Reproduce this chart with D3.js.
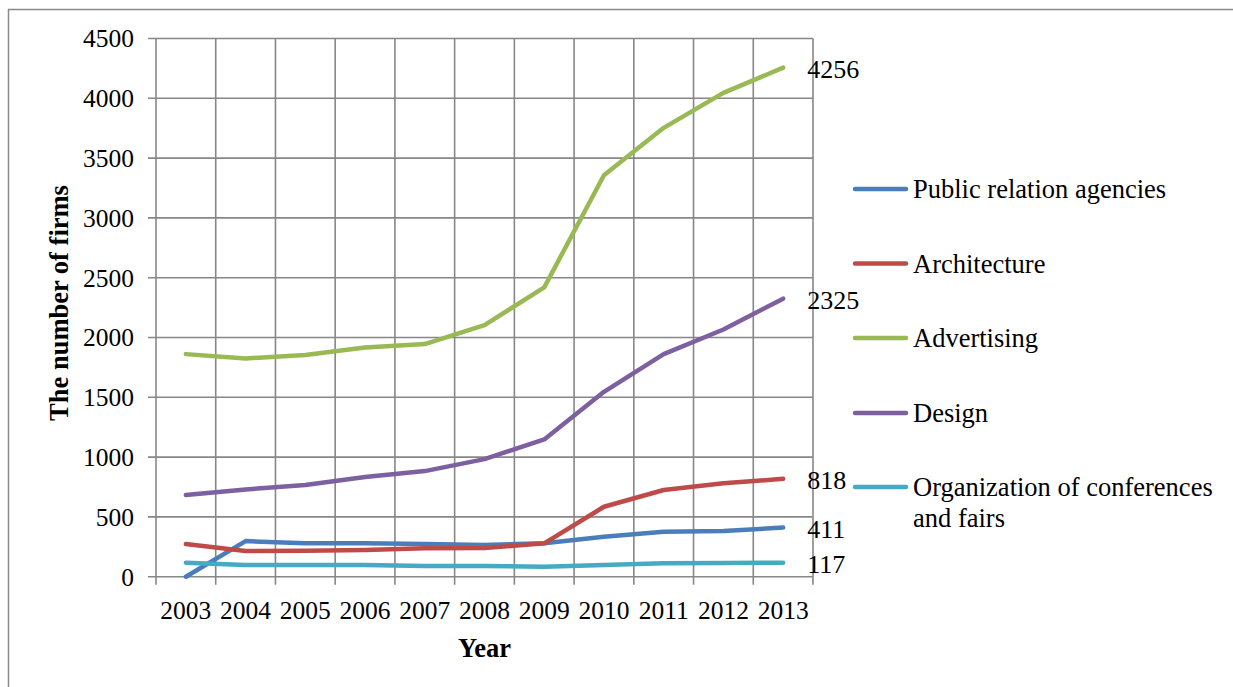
<!DOCTYPE html>
<html>
<head>
<meta charset="utf-8">
<script src="https://cdn.jsdelivr.net/npm/d3@7/dist/d3.min.js"></script>
<style>
  html, body { margin: 0; padding: 0; background: #fff; }
  svg { display: block; }
</style>
</head>
<body>
<svg id="chart" width="1233" height="687"></svg>
<script>
const years = ["2003","2004","2005","2006","2007","2008","2009","2010","2011","2012","2013"];
const seriesNames = ["Public relation agencies","Architecture","Advertising","Design","Organization of conferences and fairs"];
const publicRelation = [0, 298, 279, 279, 273, 265, 279, 334, 376, 382, 411];
const architecture   = [273, 215, 217, 223, 237, 240, 279, 585, 725, 781, 818];
const advertising    = [1861, 1825, 1853, 1917, 1945, 2104, 2419, 3357, 3753, 4045, 4256];
const design         = [683, 730, 766, 834, 883, 983, 1148, 1546, 1861, 2067, 2325];
const conferences    = [117, 98, 98, 98, 89, 89, 84, 98, 112, 115, 117];
const yTicks = [0, 500, 1000, 1500, 2000, 2500, 3000, 3500, 4000, 4500];
const endLabels = ["411", "818", "4256", "2325", "117"];
const colors = ["#4a7ebb", "#be4b48", "#98b954", "#7d60a0", "#46aac5"];

const seriesValues = [publicRelation, architecture, advertising, design, conferences];

(function draw() {
const FONT = '"Liberation Serif", "Times New Roman", serif';
const FS_TICK = "25.5px";
const FS_LAB = "26px";
const FS_LEG = "26.5px";
const svg = d3.select("#chart");

svg.append("line").attr("x1", 8).attr("x2", 1233).attr("y1", 9.5).attr("y2", 9.5)
  .attr("stroke", "#8a8a8a").attr("stroke-width", 1.5);
svg.append("line").attr("x1", 8.5).attr("x2", 8.5).attr("y1", 9).attr("y2", 687)
  .attr("stroke", "#8a8a8a").attr("stroke-width", 1.5);

const pLeft = 156, pRight = 813, pTop = 38.5, pBottom = 576.7;

const x = d3.scaleBand().domain(years).range([pLeft, pRight]).padding(0);
const y = d3.scaleLinear().domain([0, 4500]).range([pBottom, pTop]);

const gridColor = "#878787";

svg.append("g").selectAll("line").data(yTicks).join("line")
  .attr("x1", pLeft - 8).attr("x2", pRight)
  .attr("y1", d => y(d)).attr("y2", d => y(d))
  .attr("stroke", gridColor).attr("stroke-width", 1.6);

const bounds = years.map(d => x(d)).concat([pRight]);
svg.append("g").selectAll("line").data(bounds).join("line")
  .attr("x1", d => d).attr("x2", d => d)
  .attr("y1", pTop).attr("y2", pBottom + 8)
  .attr("stroke", gridColor).attr("stroke-width", 1.6);

svg.append("g").selectAll("text").data(yTicks).join("text")
  .attr("x", 134).attr("y", d => y(d))
  .attr("dy", "0.35em")
  .attr("text-anchor", "end")
  .style("font-family", FONT).style("font-size", FS_TICK)
  .text(d => d);

svg.append("g").selectAll("text").data(years).join("text")
  .attr("x", d => x(d) + x.bandwidth() / 2)
  .attr("y", 619)
  .attr("text-anchor", "middle")
  .style("font-family", FONT).style("font-size", FS_TICK)
  .text(d => d);

svg.append("text")
  .attr("x", (pLeft + pRight) / 2).attr("y", 657)
  .attr("text-anchor", "middle")
  .style("font-family", FONT).style("font-size", FS_LEG).style("font-weight", "bold")
  .text("Year");

svg.append("text")
  .attr("transform", "translate(68, 303) rotate(-90)")
  .attr("text-anchor", "middle")
  .style("font-family", FONT).style("font-size", FS_LEG).style("font-weight", "bold")
  .text("The number of firms");

const line = d3.line()
  .x((d, i) => x(years[i]) + x.bandwidth() / 2)
  .y(d => y(d));

seriesValues.forEach((vals, k) => {
  svg.append("path")
    .datum(vals)
    .attr("fill", "none")
    .attr("stroke", colors[k])
    .attr("stroke-width", 4.5)
    .attr("stroke-linejoin", "round")
    .attr("stroke-linecap", "round")
    .attr("d", line);
});

seriesValues.forEach((vals, k) => {
  const last = vals.length - 1;
  svg.append("text")
    .attr("x", x(years[last]) + x.bandwidth() / 2 + 24)
    .attr("y", y(vals[last]) + 1.5)
    .attr("dy", "0.35em")
    .style("font-family", FONT).style("font-size", FS_LAB)
    .text(endLabels[k]);
});

const legendY = [189, 263.5, 338, 413, 487];
const legend = svg.append("g");
seriesNames.forEach((name, k) => {
  legend.append("line")
    .attr("x1", 855).attr("x2", 906)
    .attr("y1", legendY[k]).attr("y2", legendY[k])
    .attr("stroke", colors[k]).attr("stroke-width", 4.5)
    .attr("stroke-linecap", "round");
  const t = legend.append("text")
    .attr("x", 913).attr("y", legendY[k])
    .attr("dy", "0.35em")
    .style("font-family", FONT).style("font-size", FS_LEG);
  if (name === "Organization of conferences and fairs") {
    t.append("tspan").attr("x", 913).text("Organization of conferences");
    t.append("tspan").attr("x", 913).attr("dy", 31).text("and fairs");
  } else {
    t.text(name);
  }
});
})();
</script>
</body>
</html>
